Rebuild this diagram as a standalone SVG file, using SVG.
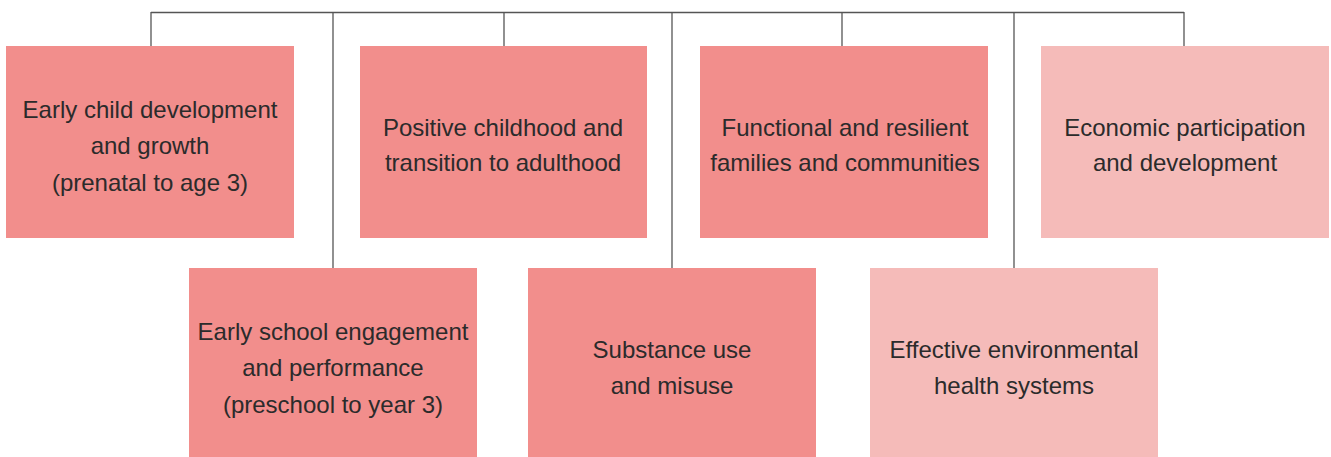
<svg xmlns="http://www.w3.org/2000/svg" width="1331" height="457" viewBox="0 0 1331 457">
<style>
.dark{fill:#F28E8C}
.light{fill:#F5BBB9}
text{font-family:"Liberation Sans",Arial,sans-serif;font-size:24px;fill:#2b2b2b;text-anchor:middle}
.conn{stroke:#555;stroke-width:1.3;fill:none}
</style>
<rect width="1331" height="457" fill="#fff"/>
<g id="connectors" class="conn">
<path d="M151 12.5H1184"/>
<path d="M151 12V46"/>
<path d="M333 12V268"/>
<path d="M504 12V46"/>
<path d="M672 12V268"/>
<path d="M842 12V46"/>
<path d="M1014 12V268"/>
<path d="M1184 12V46"/>
</g>
<g id="n1"><rect class="dark" x="6" y="46" width="288" height="192"/>
<text x="150" y="118">Early child development</text><text x="150" y="154">and growth</text><text x="150" y="191">(prenatal to age 3)</text></g>
<g id="n2"><rect class="dark" x="360" y="46" width="287" height="192"/>
<text x="503" y="136">Positive childhood and</text><text x="503" y="171">transition to adulthood</text></g>
<g id="n3"><rect class="dark" x="700" y="46" width="288" height="192"/>
<text x="845" y="136">Functional and resilient</text><text x="845" y="171">families and communities</text></g>
<g id="n4"><rect class="light" x="1041" y="46" width="288" height="192"/>
<text x="1185" y="136">Economic participation</text><text x="1185" y="171">and development</text></g>
<g id="n5"><rect class="dark" x="189" y="268" width="288" height="189"/>
<text x="333" y="340">Early school engagement</text><text x="333" y="376">and performance</text><text x="333" y="413">(preschool to year 3)</text></g>
<g id="n6"><rect class="dark" x="528" y="268" width="288" height="189"/>
<text x="672" y="358">Substance use</text><text x="672" y="394">and misuse</text></g>
<g id="n7"><rect class="light" x="870" y="268" width="288" height="189"/>
<text x="1014" y="358">Effective environmental</text><text x="1014" y="394">health systems</text></g>
</svg>
